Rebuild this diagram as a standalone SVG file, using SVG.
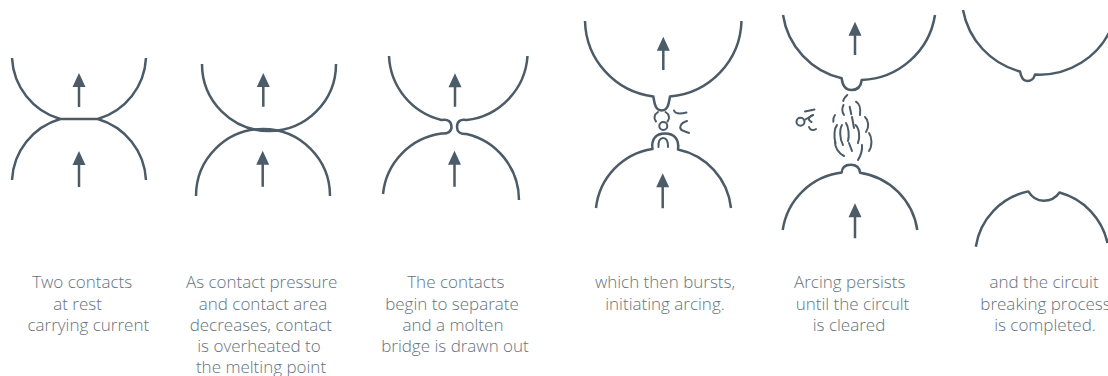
<svg xmlns="http://www.w3.org/2000/svg" xmlns:xlink="http://www.w3.org/1999/xlink" width="1108" height="376" viewBox="0 0 1108 376">
  <style>
    .contact { fill: none; stroke: #4b5b67; stroke-width: 2.5; stroke-linejoin: round; stroke-linecap: butt; }
    .debris { fill: none; stroke: #4b5b67; stroke-width: 2; stroke-linecap: round; stroke-linejoin: round; }
    .shaft { fill: none; stroke: #4b5b67; stroke-width: 2.5; }
    .head { fill: #4b5b67; }
    .caption { font-family: "Open Sans", "Liberation Sans", sans-serif; font-weight: 300; font-size: 17px; fill: #64737e; text-anchor: middle; }
  </style>
  <defs>
    <path id="head" class="head" d="M0,0 L6.5,14 L-6.5,14 Z"/>
  </defs>
  <rect width="1108" height="376" fill="#ffffff"/>

  <!-- stage 1: contacts at rest, flattened contact face -->
  <g id="stage-rest">
    <path class="contact" d="M12,58 A67,67 0 0 0 60.2,119 L97.8,119 A67,67 0 0 0 146,58"/>
    <path class="contact" d="M12,180 A67,67 0 0 1 60.2,119 M97.8,119 A67,67 0 0 1 146,180"/>
    <text class="caption"><tspan x="82.2" y="288">Two contacts</tspan><tspan x="77.5" y="309.5">at rest</tspan><tspan x="88.3" y="331">carrying current</tspan></text>
  </g>

  <!-- stage 2: touching at a single point -->
  <g id="stage-pressure">
    <path class="contact" d="M202,64 A67,67 0 0 0 336,64"/>
    <path class="contact" d="M196,196 A67,67 0 0 1 330,196"/>
    <text class="caption"><tspan x="261.7" y="288">As contact pressure</tspan><tspan x="263" y="309.5">and contact area</tspan><tspan x="260.8" y="331">decreases, contact</tspan><tspan x="259" y="352">is overheated to</tspan><tspan x="261" y="373">the melting point</tspan></text>
  </g>

  <!-- stage 3: molten bridge drawn out -->
  <g id="stage-bridge">
    <path class="contact" d="M389,56 A69,69 0 0 0 441.5,120 C448,118.5 451.5,122 451.5,127 C451.5,131.5 448,134 441.5,133.5 A68,68 0 0 0 383,194"/>
    <path class="contact" d="M527.5,56 A69,69 0 0 1 466.5,120 C460,118.5 457,122 457,127 C457,131.5 460,134.5 466.5,134 A68,68 0 0 1 519,200"/>
    <text class="caption"><tspan x="455.8" y="288">The contacts</tspan><tspan x="452" y="309.5">begin to separate</tspan><tspan x="453" y="331">and a molten</tspan><tspan x="455" y="352">bridge is drawn out</tspan></text>
  </g>

  <!-- stage 4: bridge bursts -->
  <g id="stage-burst">
    <path class="contact" d="M585,21 A78,78 0 0 0 653.3,96.5 C654.3,101 654.5,110.5 661.7,110.5 C668.8,110.5 669,101 670,96.5 A78,78 0 0 0 741.5,21"/>
    <path class="contact" d="M596,208 A67,67 0 0 1 652.5,149 C651,139 656,133.5 665,133.5 C674,133.5 679.5,139 678,149.5 A67,67 0 0 1 731,208"/>
    <path class="debris" d="M658,112 C654,114.5 653.5,118.5 656,121.5"/>
    <path class="debris" d="M665.5,112 C669.5,114.5 670,118.5 667.5,121.5"/>
    <circle class="debris" cx="663.3" cy="126" r="4"/>
    <path class="debris" d="M674,110.5 C675,113.5 678,114.5 686.5,112.5"/>
    <path class="debris" d="M687,121 C680,123 678.5,128.5 682.5,130.5 L689,133"/>
    <path class="debris" d="M658.5,147 C658,141 660,138 663.2,138 C666.8,138 668,141 668,147"/>
    <text class="caption"><tspan x="665" y="288">which then bursts,</tspan><tspan x="665" y="309.5">initiating arcing.</tspan></text>
  </g>

  <!-- stage 5: arc persists between the contacts -->
  <g id="stage-arcing">
    <path class="contact" d="M783,15 A77,77 0 0 0 841.7,78.3 C842.5,86 846,90 851.7,90 C857.5,90 861,86 861.7,80 A77,77 0 0 0 935,15"/>
    <path class="contact" d="M782.7,230 A68,68 0 0 1 841.7,172.5 C842,167.5 845.5,164.8 850.7,164.8 C855.8,164.8 859.5,167.5 860,172.7 A68,68 0 0 1 917.3,230"/>
    <!-- arc plasma -->
    <path class="debris" d="M847.3,95 C845,97 843.5,99 843.3,101"/>
    <path class="debris" d="M843.5,105 C842,108 842,112 844,115"/>
    <path class="debris" d="M849.7,106.7 L851.3,114.3"/>
    <path class="debris" d="M856,101.7 C859.5,104 861,107 860,115"/>
    <path class="debris" d="M835,115 C833.5,117 833,119.5 833.3,121.7"/>
    <path class="debris" d="M837,125 C834.5,128 833.5,136 835.5,143"/>
    <path class="debris" d="M842,125 C839.5,129 839.5,139 843,145"/>
    <path class="debris" d="M846,123 C848.5,127 849.5,135 848,141"/>
    <path class="debris" d="M852,117 L854,128"/>
    <path class="debris" d="M855.5,125 C859,128 860.5,137 858,143"/>
    <path class="debris" d="M865,117 C868.5,120 869.5,127 866,132"/>
    <path class="debris" d="M869,133 C872,137 872.5,146 869,151"/>
    <path class="debris" d="M835,142 C835,147 838,153 844,156"/>
    <path class="debris" d="M862,145 C862.5,150 861,155 858,160"/>
    <path class="debris" d="M849,143 L852,151"/>
    <!-- ejected particle -->
    <circle class="debris" cx="800.5" cy="121.7" r="4"/>
    <path class="debris" d="M805,111.5 L814.5,109.5"/>
    <path class="debris" d="M804.5,120 L813,115"/>
    <path class="debris" d="M813,115 C808,117 807.5,120 811.5,122"/>
    <path class="debris" d="M809,127 C810,130 813,131 816,129"/>
    <text class="caption"><tspan x="849.7" y="288">Arcing persists</tspan><tspan x="852.5" y="309.5">until the circult</tspan><tspan x="849" y="331">is cleared</tspan></text>
  </g>

  <!-- stage 6: contacts fully separated, eroded faces -->
  <g id="stage-cleared">
    <path class="contact" d="M963,10 A78.3,78.3 0 0 0 1020,71.5 C1021,77 1023,81 1027.3,81 C1031.5,81 1034,78.5 1035,74.5 A78.3,78.3 0 0 0 1112,26.5"/>
    <path class="contact" d="M975.8,246.7 A67,67 0 0 1 1028.3,191.4 C1033,199 1038,200.8 1043.5,200.8 C1049.5,200.8 1055,199 1059.5,192.5 A67,67 0 0 1 1107.5,243"/>
    <text class="caption"><tspan x="1044" y="288">and the circuit</tspan><tspan x="1045.5" y="309.5">breaking process</tspan><tspan x="1045" y="331">is completed.</tspan></text>
  </g>

  <!-- direction of contact movement -->
  <g id="connectors">
    <path class="shaft" d="M79,107 V85 M79,187 V163 M263.3,106.7 V85 M262.7,186.7 V163 M455,106.7 V85 M454.5,186.7 V163 M663.3,70 V49 M662.7,208.3 V186 M855,55 V34 M855,238.3 V216"/>
    <use xlink:href="#head" x="79" y="73"/>
    <use xlink:href="#head" x="79" y="151"/>
    <use xlink:href="#head" x="263.3" y="73"/>
    <use xlink:href="#head" x="262.7" y="150.7"/>
    <use xlink:href="#head" x="455" y="73.3"/>
    <use xlink:href="#head" x="454.5" y="150.7"/>
    <use xlink:href="#head" x="663.3" y="36.7"/>
    <use xlink:href="#head" x="662.7" y="173.3"/>
    <use xlink:href="#head" x="855" y="21.7"/>
    <use xlink:href="#head" x="855" y="203.3"/>
  </g>
</svg>
